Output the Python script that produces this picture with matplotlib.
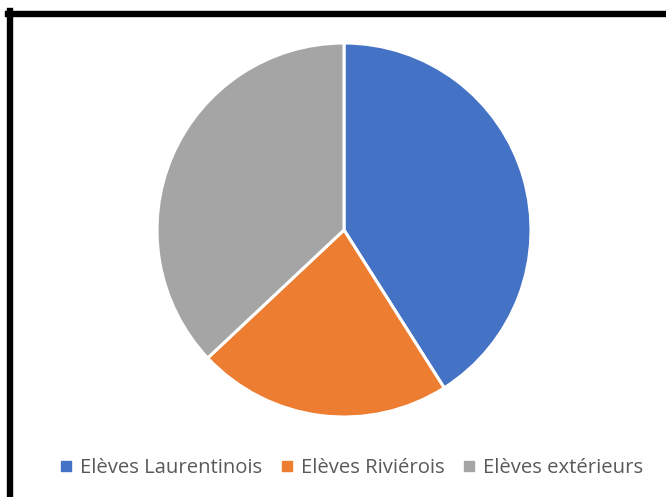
import matplotlib
matplotlib.use('Agg')
import matplotlib.pyplot as plt
from matplotlib.lines import Line2D

# Data
labels = ['Elèves Laurentinois', 'Elèves Riviérois', 'Elèves extérieurs']
values = [41, 22, 37]
colors = ['#4472C4', '#ED7D31', '#A5A5A5']

plt.rcParams['font.family'] = ['Open Sans', 'DejaVu Sans']

W, H = 666, 497
fig = plt.figure(figsize=(W / 100, H / 100), dpi=100, facecolor='white')

# Pie centred at (344, 230) px, radius 187 px
cx, cy, r = 344, 230, 187
ax = fig.add_axes([(cx - r) / W, (H - cy - r) / H, 2 * r / W, 2 * r / H])
ax.pie(values, colors=colors, startangle=90, counterclock=False, radius=1,
       wedgeprops=dict(edgecolor='white', linewidth=2.2))
ax.set_xlim(-1, 1)
ax.set_ylim(-1, 1)
ax.axis('off')

# Thick frame (left and top edges visible)
fig.add_artist(Line2D([10.5 / W, 10.5 / W], [1 - 11 / H, -0.1], color='black',
                      linewidth=4.6, transform=fig.transFigure, solid_capstyle='projecting'))
fig.add_artist(Line2D([8 / W, 1.1], [1 - 14 / H, 1 - 14 / H], color='black',
                      linewidth=4.6, transform=fig.transFigure))

handles = [Line2D([], [], marker='s', linestyle='none', markersize=7,
                  markerfacecolor=c, markeredgecolor=c) for c in colors]
leg = fig.legend(handles, labels, loc='center', bbox_to_anchor=(351 / W, 1 - 468 / H),
                 ncol=3, frameon=False, fontsize=14.6, handlelength=0.7,
                 handletextpad=0.35, columnspacing=0.85, labelcolor='#595959')

fig.savefig('out.png', dpi=100, facecolor='white')
